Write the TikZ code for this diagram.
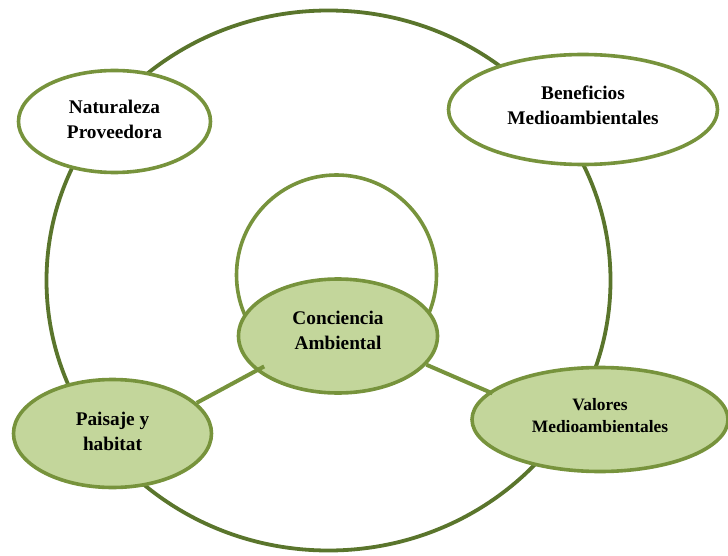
\documentclass[tikz,border=0pt]{standalone}
\usepackage{fontspec}
\setmainfont{Liberation Serif}
\usetikzlibrary{shapes.geometric}
\definecolor{darkolive}{HTML}{5A752C}
\definecolor{olive}{HTML}{77933C}
\definecolor{lightolive}{HTML}{C3D69B}
\tikzset{
  bubble/.style={ellipse, draw=olive, line width=3.6pt, inner sep=0pt, align=center,
    font=\bfseries\fontsize{19.3}{25}\selectfont, text=black},
  whitebubble/.style={bubble, fill=white},
  greenbubble/.style={bubble, fill=lightolive},
  link/.style={draw=olive, line width=4pt},
}
\begin{document}
\begin{tikzpicture}[x=1pt,y=-1pt]
\useasboundingbox (0,0) rectangle (728,556);
% outer ring and inner loop
\draw[darkolive, line width=3.8pt] (328.5,280.5) ellipse [x radius=282, y radius=270];
\draw[olive, line width=3.6pt] (336.5,275) circle [radius=100];
% nodes
\node[whitebubble, minimum width=192pt, minimum height=102pt, text depth=5pt] (nat) at (114.5,121.5) {Naturaleza\\Proveedora};
\node[whitebubble, minimum width=269pt, minimum height=110pt, text depth=8pt] (ben) at (583,109.5) {Beneficios\\Medioambientales};
\node[greenbubble, minimum width=199pt, minimum height=114pt, text depth=11pt] (conc) at (338,336) {Conciencia\\Ambiental};
\node[greenbubble, minimum width=198pt, minimum height=108pt, text depth=5pt] (pai) at (112.5,433.5) {Paisaje y\\habitat};
\node[greenbubble, minimum width=256pt, minimum height=104pt, text depth=9pt, font=\bfseries\fontsize{17.4}{22}\selectfont] (val) at (600,419.5) {Valores\\Medioambientales};
% connectors
\draw[link, shorten >=-9pt] (pai.20.7) -- (conc.203.3);
\draw[link, shorten >=-4pt] (conc.-18) -- (val.166.3);
\end{tikzpicture}
\end{document}
